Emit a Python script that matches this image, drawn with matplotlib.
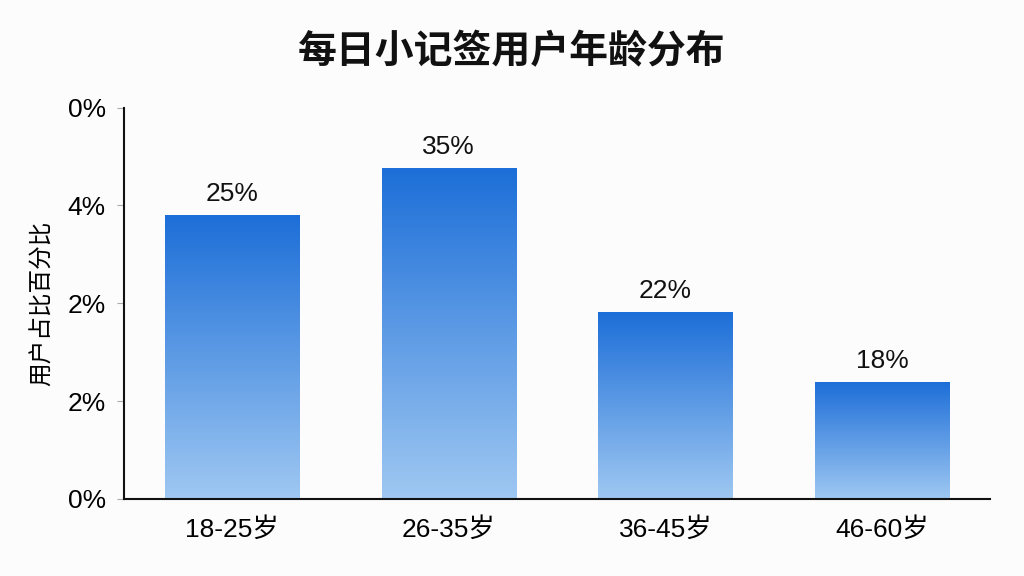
import numpy as np
import matplotlib.pyplot as plt
from matplotlib.colors import LinearSegmentedColormap

plt.rcParams['font.family'] = ['Liberation Sans', 'Noto Sans CJK SC', 'DejaVu Sans']

categories = ['18-25岁', '26-35岁', '36-45岁', '46-60岁']
# bar heights in axis units as drawn, and the percentage text shown above each bar
heights = [2.905, 3.386, 1.913, 1.197]
bar_labels = ['25%', '35%', '22%', '18%']
yticks = [0, 1, 2, 3, 4]
ytick_labels = ['0%', '2%', '2%', '4%', '0%']

fig = plt.figure(figsize=(10.24, 5.76), dpi=100)
fig.patch.set_facecolor('#fcfcfc')
ax = fig.add_axes([0.121, 0.134, 0.846, 0.679])
ax.set_facecolor('#fcfcfc')

cmap = LinearSegmentedColormap.from_list('grad', ['#9fc8f2', '#1c6ed8'])
grad = np.linspace(0, 1, 256).reshape(-1, 1)

x = np.arange(len(categories))
bar_width = 0.62
bars = ax.bar(x, heights, bar_width, color='none', edgecolor='none')
for rect, lab in zip(bars, bar_labels):
    x0 = rect.get_x()
    h = rect.get_height()
    im = ax.imshow(grad, cmap=cmap, aspect='auto', origin='lower',
                   extent=[x0, x0 + rect.get_width(), 0, h], zorder=2)
    im.set_clip_path(rect)
    ax.text(x0 + rect.get_width() / 2, h + 0.09, lab, ha='center', va='bottom',
            fontsize=19, color='#111111')

ax.set_xlim(-0.5, 3.5)
ax.set_ylim(0, 4)
ax.set_xticks(x)
ax.set_xticklabels(categories, fontsize=19)
ax.set_yticks(yticks)
ax.set_yticklabels(ytick_labels, fontsize=19)
ax.tick_params(axis='x', length=0, pad=13)
ax.tick_params(axis='y', length=5, width=0.8, color='#aaaaaa', pad=8)
for s in ['top', 'right']:
    ax.spines[s].set_visible(False)
ax.spines['left'].set_linewidth(1.5)
ax.spines['bottom'].set_linewidth(1.5)
ax.spines['left'].set_color('#111111')
ax.spines['bottom'].set_color('#111111')

ax.set_ylabel('用户占比百分比', fontsize=17, labelpad=10)
fig.text(0.5, 0.908, '每日小记签用户年龄分布', ha='center', va='center',
         fontsize=28, fontweight='bold', color='#111111')

plt.savefig('out.png', dpi=100, facecolor=fig.get_facecolor())
